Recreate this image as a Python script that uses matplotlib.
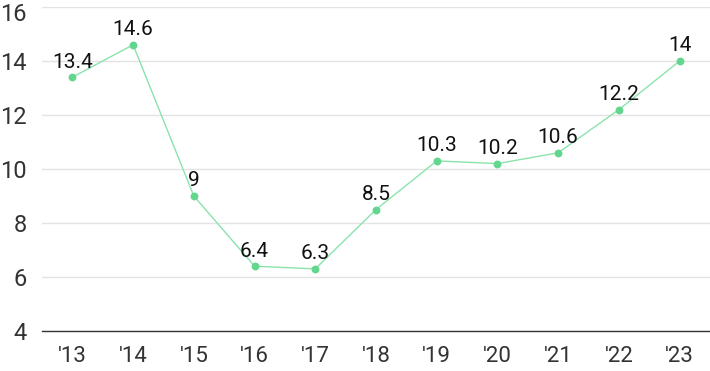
import matplotlib
matplotlib.use("Agg")
import matplotlib.pyplot as plt
import matplotlib.transforms as mtransforms

years = ["'13", "'14", "'15", "'16", "'17", "'18", "'19", "'20", "'21", "'22", "'23"]
values = [13.4, 14.6, 9, 6.4, 6.3, 8.5, 10.3, 10.2, 10.6, 12.2, 14]
labels = ["13.4", "14.6", "9", "6.4", "6.3", "8.5", "10.3", "10.2", "10.6", "12.2", "14"]
yticks = [4, 6, 8, 10, 12, 14, 16]

plt.rcParams['font.family'] = ['Roboto', 'DejaVu Sans']

fig = plt.figure(figsize=(7.10, 3.71), dpi=100)
ax = fig.add_axes([42/710, 1 - 331/371, 668/710, 324/371])

x = list(range(len(values)))
ax.plot(x, values, color='#8be3ac', linewidth=1.0, zorder=3)
ax.scatter(x, values, s=32, color='#63d68e', zorder=4, linewidths=0)

for xi, v, lab in zip(x, values, labels):
    ax.annotate(lab, (xi, v), xytext=(0, 4), textcoords='offset points',
                ha='center', va='bottom', fontsize=15, color='#111111', zorder=5)

ax.set_xlim(-0.5, len(values) - 0.5)
ax.set_ylim(4, 16)
ax.set_yticks(yticks)
ax.set_yticklabels([str(t) for t in yticks])
ax.set_xticks(x)
ax.set_xticklabels(years)
ax.tick_params(axis='y', length=0, pad=11, labelsize=17, labelcolor='#333333')
ax.tick_params(axis='x', length=0, pad=11, labelsize=16, labelcolor='#333333')

# keep the top tick label inside the figure, as in the reference
top_label = ax.get_yticklabels()[-1]
top_label.set_transform(top_label.get_transform() +
                        mtransforms.ScaledTranslation(0, -5/100, fig.dpi_scale_trans))

ax.grid(axis='y', color='#e3e3e3', linewidth=1.0)
ax.set_axisbelow(True)
for s in ['top', 'right', 'left']:
    ax.spines[s].set_visible(False)
ax.spines['bottom'].set_color('#333333')
ax.spines['bottom'].set_linewidth(1.0)
ax.spines['bottom'].set_zorder(2)

fig.savefig('out.png', dpi=100)
